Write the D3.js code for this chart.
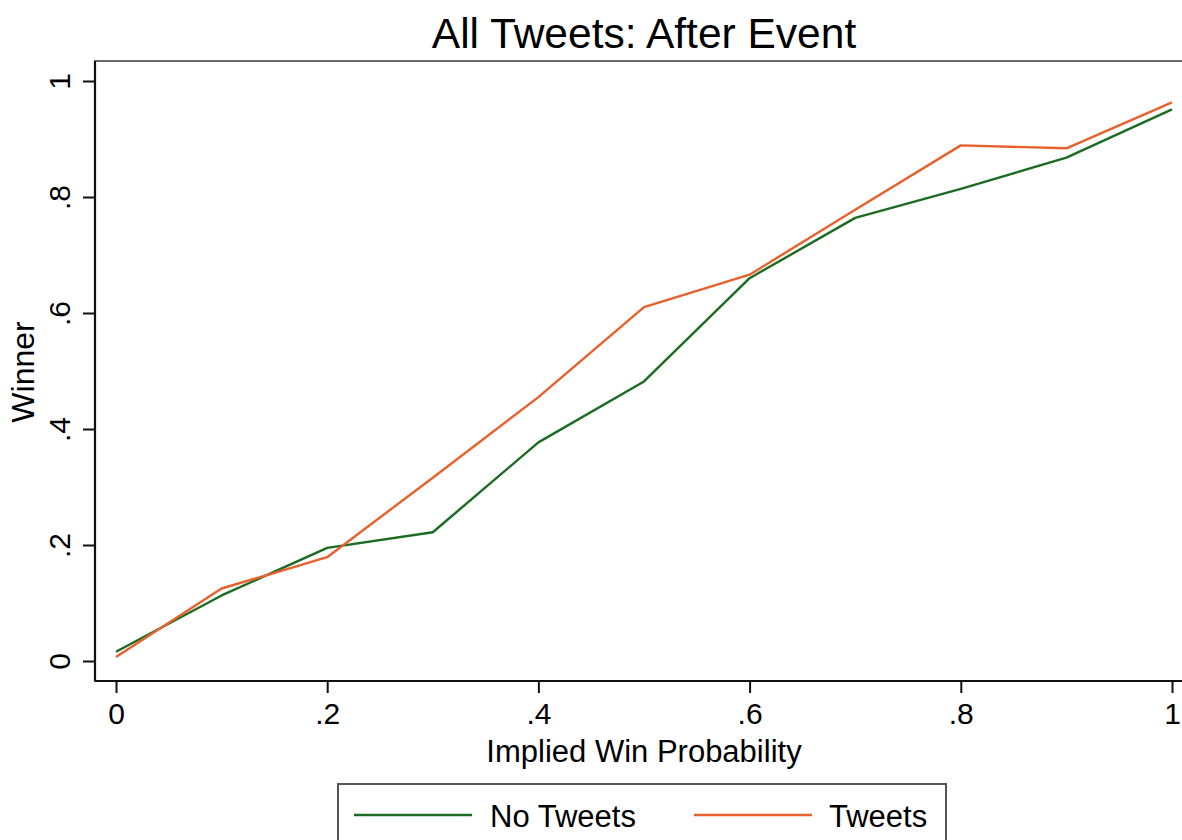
<!DOCTYPE html>
<html>
<head>
<meta charset="utf-8">
<script src="https://cdn.jsdelivr.net/npm/d3@7"></script>
<style>
html,body{margin:0;padding:0;background:#fff;}
svg{display:block;font-family:"Liberation Sans",Arial,Helvetica,sans-serif;}
</style>
</head>
<body>
<svg id="chart" width="1182" height="840"></svg>
<script>
const xValues = [0, 0.1, 0.2, 0.3, 0.4, 0.5, 0.6, 0.7, 0.8, 0.9, 1.0];
const noTweets = [0.016, 0.113, 0.195, 0.222, 0.377, 0.482, 0.660, 0.764, 0.814, 0.868, 0.951];
const tweets   = [0.007, 0.125, 0.179, 0.316, 0.455, 0.610, 0.666, 0.778, 0.889, 0.884, 0.963];
const xTicks = [0, 0.2, 0.4, 0.6, 0.8, 1];
const yTicks = [0, 0.2, 0.4, 0.6, 0.8, 1];
const seriesNames = ["No Tweets", "Tweets"];
const seriesColors = ["#1b6b22", "#e8602c"];
const titleText = "All Tweets: After Event";
const xTitle = "Implied Win Probability";
const yTitle = "Winner";

const fmt = v => v === 0 ? "0" : v === 1 ? "1" : String(v).replace(/^0/, "");

const svg = d3.select("#chart");
const x = d3.scaleLinear().domain([0, 1]).range([116, 1172]);
const y = d3.scaleLinear().domain([0, 1]).range([661, 81]);

const plot = {left: 95, top: 61, bottom: 681, right: 1195};

// plot region border (gray)
svg.append("rect")
  .attr("x", plot.left).attr("y", plot.top)
  .attr("width", plot.right - plot.left).attr("height", plot.bottom - plot.top)
  .attr("fill", "none").attr("stroke", "#6a6a6a").attr("stroke-width", 2);

// title
svg.append("text").attr("x", 644).attr("y", 48)
  .attr("text-anchor", "middle").attr("font-size", 42.5).attr("fill", "#000")
  .text(titleText);

// y axis
const yAxis = d3.axisLeft(y).tickValues(yTicks).tickFormat(fmt).tickSize(12).tickPadding(14);
const gy = svg.append("g").attr("transform", `translate(${plot.left},0)`).call(yAxis);
gy.select(".domain").attr("d", `M0,${plot.top}V${plot.bottom}`).attr("stroke", "#111").attr("stroke-width", 2.2);
gy.selectAll(".tick line").attr("stroke", "#111").attr("stroke-width", 2);
gy.selectAll(".tick text")
  .attr("font-size", 30).attr("fill", "#000")
  .attr("text-anchor", "middle")
  .attr("transform", "rotate(-90)")
  .attr("x", 0).attr("y", -36).attr("dy", "0.35em");

// x axis
const xAxis = d3.axisBottom(x).tickValues(xTicks).tickFormat(fmt).tickSize(12).tickPadding(10);
const gx = svg.append("g").attr("transform", `translate(0,${plot.bottom})`).call(xAxis);
gx.select(".domain").attr("d", `M${plot.left},0H${plot.right}`).attr("stroke", "#111").attr("stroke-width", 2.2);
gx.selectAll(".tick line").attr("stroke", "#111").attr("stroke-width", 2);
gx.selectAll(".tick text").attr("font-size", 30).attr("fill", "#000");

// axis titles
svg.append("text").attr("x", 644).attr("y", 762)
  .attr("text-anchor", "middle").attr("font-size", 31).attr("fill", "#000")
  .text(xTitle);
svg.append("text")
  .attr("transform", "translate(34,372) rotate(-90)")
  .attr("text-anchor", "middle").attr("font-size", 32).attr("fill", "#000")
  .text(yTitle);

// lines
const line = d3.line().x((d, i) => x(xValues[i])).y(d => y(d));
[noTweets, tweets].forEach((s, k) => {
  svg.append("path").datum(s)
    .attr("d", line).attr("fill", "none")
    .attr("stroke", seriesColors[k]).attr("stroke-width", 2.4)
    .attr("stroke-linejoin", "round");
});

// legend
const lg = svg.append("g");
lg.append("rect").attr("x", 338).attr("y", 784).attr("width", 608).attr("height", 80)
  .attr("fill", "#fff").attr("stroke", "#555").attr("stroke-width", 2);
const legendItems = [
  {x1: 354, x2: 472, tx: 490},
  {x1: 694, x2: 812, tx: 829}
];
legendItems.forEach((it, k) => {
  lg.append("line").attr("x1", it.x1).attr("x2", it.x2).attr("y1", 815).attr("y2", 815)
    .attr("stroke", seriesColors[k]).attr("stroke-width", 2.6);
  lg.append("text").attr("x", it.tx).attr("y", 827).attr("font-size", 31).attr("fill", "#000")
    .text(seriesNames[k]);
});
</script>
</body>
</html>
